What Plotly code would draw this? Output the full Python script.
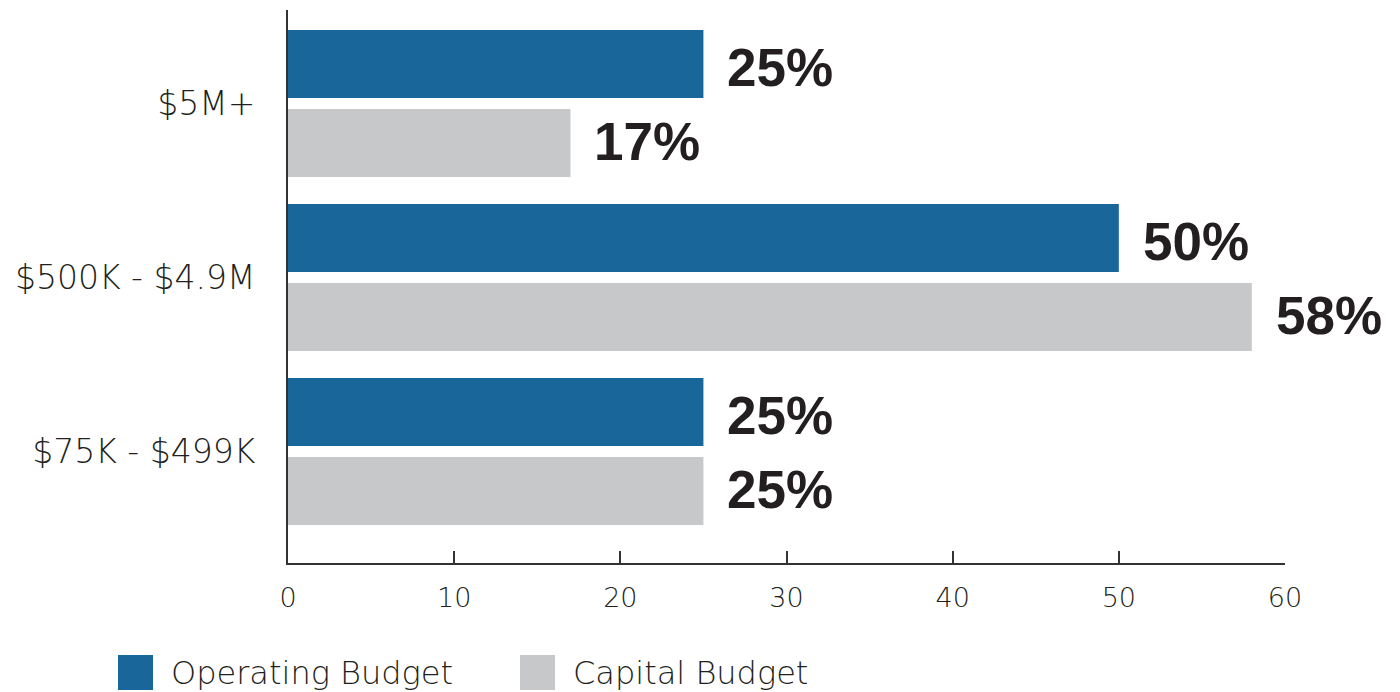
import plotly.graph_objects as go

categories = ["$75K - $499K", "$500K - $4.9M", "$5M+"]
operating = [25, 50, 25]
capital = [25, 58, 17]
x_ticks = [0, 10, 20, 30, 40, 50, 60]
series_names = ["Operating Budget", "Capital Budget"]

OP_COLOR = "#19669a"
CAP_COLOR = "#c7c8ca"
TEXT_COLOR = "#231f20"
LIGHT_FONT = "DejaVu Sans, sans-serif"
LIGHT_WEIGHT = 200
BOLD_FONT = "Liberation Sans, Arial, sans-serif"

# page has an 8px body margin; figure coordinates = page coordinates - 8
OFF = 8
W, H = 1384, 684
L, T = 288 - OFF, 10 - OFF
R = W - (1285 - OFF)
B = H - (563 - OFF)
PW, PH = W - L - R, H - T - B

fig = go.Figure()
fig.add_trace(go.Bar(y=categories, x=capital, orientation="h", name=series_names[1],
                     marker=dict(color=CAP_COLOR, line=dict(width=0)), showlegend=False))
fig.add_trace(go.Bar(y=categories, x=operating, orientation="h", name=series_names[0],
                     marker=dict(color=OP_COLOR, line=dict(width=0)), showlegend=False))

annotations = []
for cat, v in zip(categories, operating):
    annotations.append(dict(x=v, y=cat, xref="x", yref="y", text=f"<b>{v}%</b>", showarrow=False,
                            xanchor="left", yanchor="middle", xshift=22, yshift=36,
                            font=dict(family=BOLD_FONT, size=53, color=TEXT_COLOR)))
for cat, v in zip(categories, capital):
    annotations.append(dict(x=v, y=cat, xref="x", yref="y", text=f"<b>{v}%</b>", showarrow=False,
                            xanchor="left", yanchor="middle", xshift=22, yshift=-38,
                            font=dict(family=BOLD_FONT, size=53, color=TEXT_COLOR)))

# manual legend (large square swatches), positioned in page pixels
def px_x(p):
    return (p - OFF - L) / PW

def px_y(p):
    return (H - B - (p - OFF)) / PH

shapes = []
legend_items = [(series_names[0], OP_COLOR, 118), (series_names[1], CAP_COLOR, 520)]
for name, color, x0 in legend_items:
    shapes.append(dict(type="rect", xref="paper", yref="paper",
                       x0=px_x(x0), x1=px_x(x0 + 35), y0=px_y(690), y1=px_y(655),
                       fillcolor=color, line=dict(width=0)))
    annotations.append(dict(x=px_x(x0 + 51), y=px_y(673), xref="paper", yref="paper",
                            text=name, showarrow=False, xanchor="left", yanchor="middle",
                            font=dict(family=LIGHT_FONT, size=32, color=TEXT_COLOR,
                                      weight=LIGHT_WEIGHT)))

fig.update_layout(
    width=W, height=H,
    margin=dict(l=L, r=R, t=T, b=B, autoexpand=False),
    paper_bgcolor="white", plot_bgcolor="white",
    barmode="group", bargap=0.092, bargroupgap=0.139,
    showlegend=False,
    annotations=annotations, shapes=shapes,
    xaxis=dict(range=[0, 60], tickvals=x_ticks, ticks="inside", ticklen=12, tickwidth=1.5,
               tickcolor="#333333", showline=True, linecolor="#333333", linewidth=2,
               showgrid=False, zeroline=False, ticklabelstandoff=10, automargin=False,
               tickfont=dict(family=LIGHT_FONT, size=27, color=TEXT_COLOR, weight=LIGHT_WEIGHT)),
    yaxis=dict(range=[-0.641, 2.537], showline=True, linecolor="#333333", linewidth=2,
               ticks="", showgrid=False, zeroline=False, ticklabelstandoff=24, automargin=False,
               categoryorder="array", categoryarray=categories,
               tickfont=dict(family=LIGHT_FONT, size=33, color=TEXT_COLOR, weight=LIGHT_WEIGHT)),
)

fig.write_html("out.html")
